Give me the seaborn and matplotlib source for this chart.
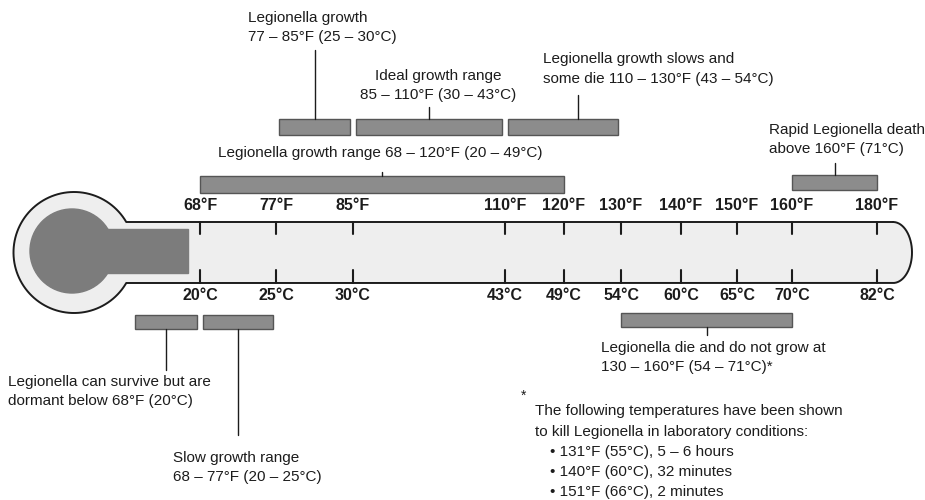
import numpy as np
import matplotlib.pyplot as plt
import seaborn as sns

# Thermometer scale: printed tick values
f_ticks = [68, 77, 85, 110, 120, 130, 140, 150, 160, 180]
c_ticks = [20, 25, 30, 43, 49, 54, 60, 65, 70, 82]

# Temperature ranges in °F (lower / upper bound) with their captions
range_lo = [77, 85, 110, 68, 160, 60, 68, 130]
range_hi = [85, 110, 130, 120, 180, 68, 77, 160]
range_text = [
    "Legionella growth\n77 – 85°F (25 – 30°C)",
    "Ideal growth range\n85 – 110°F (30 – 43°C)",
    "Legionella growth slows and\nsome die 110 – 130°F (43 – 54°C)",
    "Legionella growth range 68 – 120°F (20 – 49°C)",
    "Rapid Legionella death\nabove 160°F (71°C)",
    "Legionella can survive but are\ndormant below 68°F (20°C)",
    "Slow growth range\n68 – 77°F (20 – 25°C)",
    "Legionella die and do not grow at\n130 – 160°F (54 – 71°C)*",
]

# Footnote: lab kill times
kill_f = [131, 140, 151]
kill_c = [55, 60, 66]
kill_time = ["5 – 6 hours", "32 minutes", "2 minutes"]

# ---- layout (pixel space of a 925x500 canvas) ----
tick_x = [200, 276, 353, 505, 564, 621, 681, 737, 792, 877]  # scale is not linear
bar_y = [127, 127, 127, 184.5, 182.5, 322, 322, 320]
bar_h = [16, 16, 16, 17, 15, 14, 14, 14]
bar_pad = [3, 3, 3, 0, 0, 3, 3, 0]
leader_dx = [0, 0, 15, 0, 0, 0, 0, 0]
leader_end = [50, 107, 95, 172, 163, 370, 435, 335]
text_xy = [(248, 11), (360, 69), (543, 52), (218, 146), (769, 123),
           (8, 375), (173, 451), (601, 341)]
text_align = ["left", "center", "left", "left", "left", "left", "left", "left"]

sns.set_theme(style="white")
plt.rcParams["font.family"] = ["Liberation Sans", "DejaVu Sans"]

INK = "#1c1c1c"
BAR = "#8c8c8c"
MERC = "#7c7c7c"
TUBE = "#eeeeee"
FS = 11


def temp_to_x(t):
    if t < f_ticks[0]:
        slope = (tick_x[1] - tick_x[0]) / (f_ticks[1] - f_ticks[0])
        return tick_x[0] - (f_ticks[0] - t) * slope
    return float(np.interp(t, f_ticks, tick_x))


fig = plt.figure(figsize=(9.25, 5), dpi=100)
ax = fig.add_axes([0, 0, 1, 1])
ax.set_xlim(0, 925)
ax.set_ylim(500, 0)
ax.axis("off")

# thermometer outline: bulb + tube + rounded end
cx, cy, r = 74, 252.5, 60.5
top, bot = 222, 283
a = np.degrees(np.arcsin((cy - top) / r))
th = np.radians(np.linspace(-a, -360 + a, 200))
bulb_x, bulb_y = cx + r * np.cos(th), cy + r * np.sin(th)
ex, ew, eh = 893, 19, (bot - top) / 2
ph = np.radians(np.linspace(90, -90, 100))
cap_x, cap_y = ex + ew * np.cos(ph), (top + bot) / 2 + eh * np.sin(ph)
xs = np.concatenate([[ex], bulb_x, cap_x])
ys = np.concatenate([[top], bulb_y, cap_y])
ax.fill(xs, ys, color=TUBE, zorder=1)
ax.plot(np.append(xs, xs[0]), np.append(ys, ys[0]), color=INK, lw=1.4, zorder=3)

# mercury
ax.add_patch(plt.Circle((72, 251), 42, color=MERC, zorder=2))
ax.add_patch(plt.Rectangle((72, 229), 188 - 72, 44, color=MERC, zorder=2))

# ticks and scale labels
for f, c, x in zip(f_ticks, c_ticks, tick_x):
    ax.plot([x, x], [top, 234], color=INK, lw=1.5, zorder=3)
    ax.plot([x, x], [270, bot], color=INK, lw=1.5, zorder=3)
    ax.text(x, 206, f"{f}°F", ha="center", va="center", fontsize=11.5,
            fontweight="bold", color=INK)
    ax.text(x, 296, f"{c}°C", ha="center", va="center", fontsize=11.5,
            fontweight="bold", color=INK)

# range bars with captions
for i, (lo, hi, txt) in enumerate(zip(range_lo, range_hi, range_text)):
    x0 = temp_to_x(lo) + bar_pad[i]
    x1 = temp_to_x(hi) - bar_pad[i]
    ax.barh(bar_y[i], x1 - x0, left=x0, height=bar_h[i], color=BAR,
            edgecolor="#555555", linewidth=1, zorder=3)
    lx = (x0 + x1) / 2 + leader_dx[i]
    y_edge = bar_y[i] - bar_h[i] / 2 if leader_end[i] < bar_y[i] else bar_y[i] + bar_h[i] / 2
    ax.plot([lx, lx], [leader_end[i], y_edge], color=INK, lw=1, zorder=3)
    tx, ty = text_xy[i]
    ax.text(tx, ty, txt, ha="left", va="top", multialignment=text_align[i],
            fontsize=FS, linespacing=1.5, color=INK)

# footnote
ax.text(521, 396, "*", ha="left", va="center", fontsize=10, color=INK)
ax.text(535, 411, "The following temperatures have been shown", ha="left",
        va="center", fontsize=FS, color=INK)
ax.text(535, 432, "to kill Legionella in laboratory conditions:", ha="left",
        va="center", fontsize=FS, color=INK)
for k, (f, c, t) in enumerate(zip(kill_f, kill_c, kill_time)):
    ax.text(550, 452 + 20 * k, f"• {f}°F ({c}°C), {t}", ha="left",
            va="center", fontsize=FS, color=INK)

fig.savefig("out.png", dpi=100)
